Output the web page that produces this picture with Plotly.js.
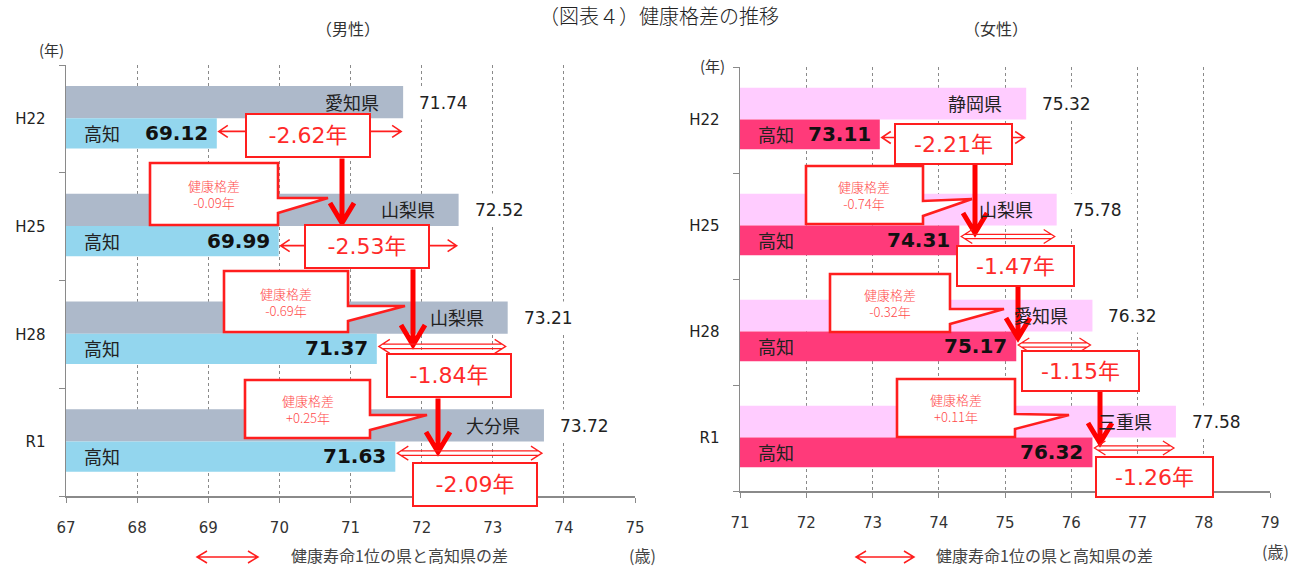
<!DOCTYPE html>
<html><head><meta charset="utf-8">
<script src="https://cdn.plot.ly/plotly-3.0.1.min.js"></script>
<style>html,body{margin:0;padding:0;background:#fff}#chart{width:1291px;height:567px}</style>
</head><body><div id="chart"></div>
<script>
// ---------------- data ----------------
const years = ['H22', 'H25', 'H28', 'R1'];
const kochiName = '高知';
const maleTopPref = ['愛知県', '山梨県', '山梨県', '大分県'];
const maleTop = [71.74, 72.52, 73.21, 73.72];
const maleKochi = [69.12, 69.99, 71.37, 71.63];
const femaleTopPref = ['静岡県', '山梨県', '愛知県', '三重県'];
const femaleTop = [75.32, 75.78, 76.32, 77.58];
const femaleKochi = [73.11, 74.31, 75.17, 76.32];
const maleTicks = [67, 68, 69, 70, 71, 72, 73, 74, 75];
const femaleTicks = [71, 72, 73, 74, 75, 76, 77, 78, 79];

// ---------------- layout helpers ----------------
const W = 1291, H = 567, ML = 66, MR = 21, MT = 65, MB = 71;
const PW = W - ML - MR, PH = H - MT - MB;
const RED = '#FF1E1E';
const JP = 'Noto Sans CJK JP';
const NUM = 'DejaVu Sans, Noto Sans CJK JP';

const panels = [
  { xa: 'x', ya: 'y', xmin: 67, xmax: 75, px0: 66, px1: 635, py0: 65, py1: 496,
    top: maleTop, kochi: maleKochi, pref: maleTopPref, ticks: maleTicks,
    topColor: '#ADB9CA', kochiColor: '#93D6EE',
    boxW: 120, boxH: 39, boxDx: [-2, -2, 7, 5], boxDy: [17, 20, 41.5, 42],
    arrDy: [12.5, 19, 12, 11], arrStyle: ['single', 'single', 'double', 'double'],
    vx: [342, 413, 438], vtip: [223, 345, 452],
    callouts: [[150, 278, 163, 225, 328, 198], [224, 348, 271, 332, 405, 306], [245, 370, 380, 438, 427, 415]],
    sub: '（男性）', subX: 348, subY: 28, yrX: 51, yrY: 50,
    legA: [197, 258], legTx: 399, unitX: 642, unitY: 555 },
  { xa: 'x2', ya: 'y2', xmin: 71, xmax: 79, px0: 740, px1: 1270, py0: 67, py1: 491,
    top: femaleTop, kochi: femaleKochi, pref: femaleTopPref, ticks: femaleTicks,
    topColor: '#FFCCFF', kochiColor: '#FF3A7A',
    boxW: 113, boxH: 36, boxDx: [1, 8, 26, 20], boxDy: [23.5, 39.5, 39, 39],
    arrDy: [17.5, 10.5, 13, 10], arrStyle: ['single', 'double', 'double', 'double'],
    vx: [975, 1018, 1100], vtip: [233, 338, 443],
    callouts: [[806, 923, 166, 224, 972, 199], [830, 950, 274, 332, 1004, 309], [897, 1015, 379, 437, 1069, 415]],
    sub: '（女性）', subX: 996, subY: 28, yrX: 712, yrY: 65,
    legA: [856, 914], legTx: 1044, unitX: 1275, unitY: 551 }
];
panels.forEach(p => {
  p.ppx = (p.px1 - p.px0) / (p.xmax - p.xmin);
  p.ppy = (p.py1 - p.py0) / years.length;
});
const X = (p, px) => p.xmin + (px - p.px0) / p.ppx;
const Y = (p, px) => (px - p.py0) / p.ppy - 0.5;
const dX = (p, px) => px / p.ppx;
const dY = (p, px) => px / p.ppy;
const pxY = (p, y) => p.py0 + (y + 0.5) * p.ppy;
const paperX = px => (px - ML) / PW;
const paperY = py => (H - MB - py) / PH;
const fmt = v => (v > 0 ? '+' : '') + v.toFixed(2);

const yIdx = years.map((_, i) => i);
const traces = [];
const shapes = [];
const ann = [];

function paperText(px, py, text, font) {
  ann.push({ xref: 'paper', yref: 'paper', x: paperX(px), y: paperY(py), xanchor: 'center', yanchor: 'middle',
    showarrow: false, text: text, font: font, borderpad: 0 });
}

panels.forEach(p => {
  traces.push({ type: 'bar', orientation: 'h', y: yIdx, x: p.top, width: 0.30, offset: -0.305,
    marker: { color: p.topColor }, xaxis: p.xa, yaxis: p.ya, hoverinfo: 'skip' });
  traces.push({ type: 'bar', orientation: 'h', y: yIdx, x: p.kochi, width: 0.28, offset: -0.005,
    marker: { color: p.kochiColor }, xaxis: p.xa, yaxis: p.ya, hoverinfo: 'skip' });

  const gaps = p.kochi.map((k, i) => k - p.top[i]);

  yIdx.forEach(i => {
    // prefecture name inside top bar
    ann.push({ xref: p.xa, yref: p.ya, x: p.top[i], y: i - 0.16, xanchor: 'right', yanchor: 'middle', xshift: -22,
      text: p.pref[i], showarrow: false, font: { family: JP, size: 18, color: '#222' } });
    // top value
    ann.push({ xref: p.xa, yref: p.ya, x: p.top[i], y: i - 0.15, xanchor: 'left', yanchor: 'middle', xshift: 9,
      text: p.top[i].toFixed(2), showarrow: false, bgcolor: '#fff', borderpad: 6,
      font: { family: 'DejaVu Sans', size: 17, color: '#222' } });
    // Kochi label
    ann.push({ xref: p.xa, yref: p.ya, x: p.xmin, y: i + 0.13, xanchor: 'left', yanchor: 'middle', xshift: 16,
      text: kochiName, showarrow: false, font: { family: JP, size: 18, color: '#222' } });
    // Kochi value
    ann.push({ xref: p.xa, yref: p.ya, x: p.kochi[i], y: i + 0.13, xanchor: 'right', yanchor: 'middle', xshift: -7,
      text: p.kochi[i].toFixed(2), showarrow: false,
      font: { family: 'DejaVu Sans', size: 20, color: '#111', weight: 'bold' } });

    // difference arrow
    const ay = i + dY(p, p.arrDy[i]);
    const x0 = p.kochi[i] + dX(p, 2), x1 = p.top[i] - dX(p, 2);
    if (p.arrStyle[i] === 'single') {
      shapes.push({ type: 'path', xref: p.xa, yref: p.ya, layer: 'above', line: { color: RED, width: 1.6 },
        path: `M${x0},${ay} L${x1},${ay} M${x0 + dX(p, 9)},${ay - dY(p, 6)} L${x0},${ay} L${x0 + dX(p, 9)},${ay + dY(p, 6)} M${x1 - dX(p, 9)},${ay - dY(p, 6)} L${x1},${ay} L${x1 - dX(p, 9)},${ay + dY(p, 6)}` });
    } else {
      const t = dY(p, 2.2);
      shapes.push({ type: 'path', xref: p.xa, yref: p.ya, layer: 'above', line: { color: RED, width: 1.3 },
        path: `M${x0 + dX(p, 3)},${ay - t} L${x1 - dX(p, 3)},${ay - t} M${x0 + dX(p, 3)},${ay + t} L${x1 - dX(p, 3)},${ay + t} M${x0 + dX(p, 11)},${ay - dY(p, 7)} L${x0},${ay} L${x0 + dX(p, 11)},${ay + dY(p, 7)} M${x1 - dX(p, 11)},${ay - dY(p, 7)} L${x1},${ay} L${x1 - dX(p, 11)},${ay + dY(p, 7)}` });
    }

    // gap box
    const mid = (p.kochi[i] + p.top[i]) / 2;
    ann.push({ xref: p.xa, yref: p.ya, x: mid, y: i, xanchor: 'center', yanchor: 'middle',
      xshift: p.boxDx[i], yshift: -p.boxDy[i],
      text: gaps[i].toFixed(2) + '年', showarrow: false, width: p.boxW, height: p.boxH,
      bgcolor: '#fff', bordercolor: RED, borderwidth: 2, borderpad: 1,
      font: { family: NUM, size: 22, color: '#FF2A2A' } });

    if (i < years.length - 1) {
      // vertical arrow from the box to the next row
      const boxBottom = pxY(p, i) + p.boxDy[i] + p.boxH / 2 + 3;
      const vx = X(p, p.vx[i]);
      const y0 = Y(p, boxBottom), tip = Y(p, p.vtip[i]);
      shapes.push({ type: 'path', xref: p.xa, yref: p.ya, layer: 'above', line: { color: '#FF0000', width: 5 },
        path: `M${vx},${y0} L${vx},${tip - dY(p, 4)} M${vx - dX(p, 12)},${tip - dY(p, 20)} L${vx},${tip} L${vx + dX(p, 12)},${tip - dY(p, 20)}` });

      // callout with the change of the gap
      const c = p.callouts[i];
      const bx0 = X(p, c[0]), bx1 = X(p, c[1]), by0 = Y(p, c[2]), by1 = Y(p, c[3]);
      const ya = Y(p, c[2] + 35), yb = Y(p, c[2] + 50), tx = X(p, c[4]), ty = Y(p, c[5]);
      shapes.push({ type: 'path', xref: p.xa, yref: p.ya, layer: 'above', fillcolor: '#fff',
        line: { color: RED, width: 2.6 },
        path: `M${bx0},${by0} L${bx1},${by0} L${bx1},${ya} L${tx},${ty} L${bx1},${yb} L${bx1},${by1} L${bx0},${by1} Z` });
      const change = Math.abs(gaps[i + 1]) - Math.abs(gaps[i]);
      ann.push({ xref: p.xa, yref: p.ya, x: (bx0 + bx1) / 2, y: (by0 + by1) / 2, xanchor: 'center', yanchor: 'middle',
        showarrow: false, text: '健康格差<br>' + fmt(change) + '年',
        font: { family: JP, size: 13, color: '#FF4A4A', weight: 300 } });
    }
  });

  // titles & units
  paperText(p.subX, p.subY, p.sub, { family: JP, size: 16, color: '#333' });
  paperText(p.yrX, p.yrY, '(年)', { family: JP, size: 15, color: '#333' });
  paperText(p.unitX, p.unitY, '(歳)', { family: JP, size: 16, color: '#444' });
  // legend
  const ly = paperY(557), la = p.legA;
  shapes.push({ type: 'path', xref: 'paper', yref: 'paper', line: { color: RED, width: 1.5 },
    path: `M${paperX(la[0])},${ly} L${paperX(la[1])},${ly} M${paperX(la[0] + 10)},${paperY(551)} L${paperX(la[0])},${ly} L${paperX(la[0] + 10)},${paperY(563)} M${paperX(la[1] - 10)},${paperY(551)} L${paperX(la[1])},${ly} L${paperX(la[1] - 10)},${paperY(563)}` });
  paperText(p.legTx, 555, '健康寿命1位の県と高知県の差', { family: JP, size: 16, color: '#444' });
});

paperText(659, 15, '（図表４）健康格差の推移', { family: JP, size: 20, color: '#222', weight: 300 });

function xAxis(p, dom, anchor) {
  return { domain: dom, range: [p.xmin, p.xmax], tickvals: p.ticks, anchor: anchor,
    showgrid: true, gridcolor: '#8a8a8a', griddash: 'dot', gridwidth: 1,
    showline: true, linecolor: '#8a8a8a', linewidth: 1.5, ticks: 'outside', ticklen: 5, tickcolor: '#8a8a8a',
    ticklabelstandoff: 12, zeroline: false, fixedrange: true,
    tickfont: { family: 'DejaVu Sans', size: 15, color: '#333' } };
}
function yAxis(dom, anchor) {
  return { domain: dom, range: [years.length - 0.5, -0.5], tickvals: yIdx, ticktext: years, anchor: anchor,
    showgrid: false, zeroline: false, showline: true, linecolor: '#8a8a8a', linewidth: 1.5, ticks: '',
    ticklabelstandoff: 16, fixedrange: true,
    minor: { tickmode: 'array', tickvals: [-0.5, 0.5, 1.5, 2.5, 3.5], ticks: 'outside', ticklen: 6, tickcolor: '#8a8a8a', showgrid: false },
    tickfont: { family: 'DejaVu Sans', size: 15, color: '#222' } };
}
const m = panels[0], f = panels[1];
const layout = {
  width: W, height: H, margin: { l: ML, r: MR, t: MT, b: MB },
  paper_bgcolor: '#fff', plot_bgcolor: '#fff', showlegend: false, barmode: 'overlay',
  xaxis: xAxis(m, [paperX(m.px0), paperX(m.px1)], 'y'),
  yaxis: yAxis([paperY(m.py1), paperY(m.py0)], 'x'),
  xaxis2: xAxis(f, [paperX(f.px0), paperX(f.px1)], 'y2'),
  yaxis2: yAxis([paperY(f.py1), paperY(f.py0)], 'x2'),
  shapes: shapes, annotations: ann
};
Plotly.newPlot('chart', traces, layout, { displayModeBar: false, staticPlot: true });
</script></body></html>
